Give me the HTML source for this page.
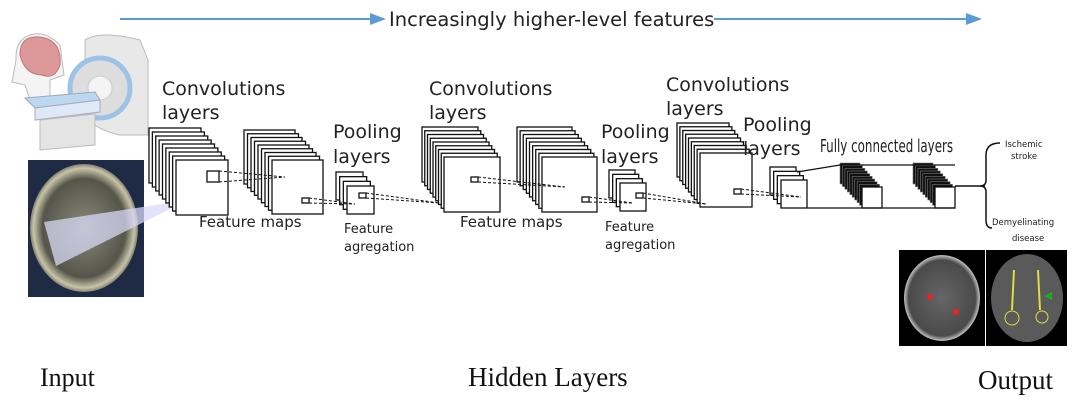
<!DOCTYPE html>
<html><head><meta charset="utf-8"><style>
html,body{margin:0;padding:0;background:#fff;}
svg{display:block;}
text{font-family:"DejaVu Sans","Liberation Sans",sans-serif;fill:#222;}
.serif{font-family:"Liberation Serif",serif;fill:#111;}
</style></head><body>
<svg id="s" width="1081" height="401" viewBox="0 0 1081 401" xmlns="http://www.w3.org/2000/svg">
<defs>
<radialGradient id="brain" cx="50%" cy="50%" r="55%"><stop offset="0" stop-color="#8a8a7a"/><stop offset="0.7" stop-color="#55554a"/><stop offset="0.85" stop-color="#c8c4a8"/><stop offset="1" stop-color="#1a1a22"/></radialGradient>
<radialGradient id="brain2" cx="50%" cy="50%" r="55%"><stop offset="0" stop-color="#666"/><stop offset="0.8" stop-color="#4a4a4a"/><stop offset="0.9" stop-color="#bbb"/><stop offset="1" stop-color="#000"/></radialGradient>
</defs>
<!-- top arrow -->
<line x1="120" y1="19" x2="372" y2="19" stroke="#5b9bd5" stroke-width="2"/>
<polygon points="370,13 386,19 370,25" fill="#5b9bd5"/>
<text x="389" y="26" font-size="19.5">Increasingly higher-level features</text>
<line x1="714" y1="19" x2="968" y2="19" stroke="#5b9bd5" stroke-width="2"/>
<polygon points="966,13 982,19 966,25" fill="#5b9bd5"/>

<!-- scanner illustration -->
<g>
<path d="M85,40 Q100,30 140,40 L148,60 L148,135 L120,135 Q95,130 85,115 Z" fill="#e8e8e8" stroke="#bbb"/>
<circle cx="100" cy="88" r="30" fill="#ddd" stroke="#9cc3e6" stroke-width="5"/>
<circle cx="100" cy="88" r="12" fill="#f4f4f4" stroke="#ccc"/>
<path d="M16,60 Q15,40 30,35 Q45,30 60,45 L64,75 L50,80 L50,100 L30,100 L25,85 L12,82 Z" fill="#f4f4f4" stroke="#bbb"/>
<path d="M20,55 Q20,35 40,37 Q62,40 60,65 Q55,80 42,75 Q25,75 20,55Z" fill="#d99" stroke="#b77"/>
<path d="M25,98 L95,92 L100,100 L35,108 Z" fill="#bcd7f0" stroke="#9ab"/>
<path d="M35,108 L100,100 L100,112 L35,120 Z" fill="#dfe9f5" stroke="#aab"/>
<path d="M40,120 L95,114 L95,145 L40,150 Z" fill="#e4e4e4" stroke="#bbb"/>
</g>
<!-- MRI photo -->
<rect x="28" y="160" width="116" height="137" fill="#1f2a44"/>
<ellipse cx="84" cy="228" rx="54" ry="64" fill="url(#brain)"/>
<polygon points="44,222 176,202 198,195 56,266" fill="#d8d8f6" opacity="0.75"/>
<polygon points="176,199 198,195 196,209 174,212" fill="#6a68a8"/>

<g id="g" fill="#fff" stroke="#111" stroke-width="1.3"></g>

<!-- FC connecting lines -->
<path d="M797,172 L840,165 L955,165" fill="none" stroke="#111" stroke-width="1.2"/>
<path d="M807,208 L955,208" fill="none" stroke="#111" stroke-width="1.2"/>
<path d="M955,186 L985,186" stroke="#111" stroke-width="1.5"/>
<path d="M1000,143 Q986,143 986,155 L986,180 Q986,186 980,186 Q986,186 986,192 L986,220 Q986,228 992,228" fill="none" stroke="#111" stroke-width="1.5"/>

<!-- labels -->
<g font-size="19">
<text x="162" y="95">Convolutions</text><text x="162" y="119">layers</text>
<text x="429" y="95">Convolutions</text><text x="429" y="119">layers</text>
<text x="666" y="91">Convolutions</text><text x="666" y="115">layers</text>
<text x="333" y="138">Pooling</text><text x="333" y="163">layers</text>
<text x="601" y="138">Pooling</text><text x="601" y="163">layers</text>
<text x="743" y="131">Pooling</text><text x="743" y="155">layers</text>
</g>
<g font-size="15">
<text x="199" y="227">Feature maps</text>
<text x="460" y="227">Feature maps</text>
</g>
<g font-size="13">
<text x="344" y="233">Feature</text><text x="344" y="251">agregation</text>
<text x="605" y="231">Feature</text><text x="605" y="249">agregation</text>
</g>
<text x="820" y="152" font-size="18" transform="translate(820,0) scale(0.66,1) translate(-820,0)">Fully connected layers</text>
<g font-size="8.5">
<text x="1005" y="147">Ischemic</text><text x="1011" y="159">stroke</text>
<text x="992" y="225">Demyelinating</text><text x="1012" y="241">disease</text>
</g>

<!-- output images -->
<rect x="899" y="250" width="86" height="96" fill="#000"/>
<ellipse cx="942" cy="298" rx="38" ry="43" fill="url(#brain2)"/>
<circle cx="930" cy="297" r="3" fill="#e22"/><circle cx="956" cy="312" r="3" fill="#e22"/>
<rect x="986" y="250" width="81" height="96" fill="#000"/>
<ellipse cx="1027" cy="298" rx="36" ry="44" fill="#5a5a5a"/>
<path d="M1014,270 L1012,310 M1038,270 L1040,310" stroke="#dd4" stroke-width="2"/>
<circle cx="1012" cy="318" r="7" fill="none" stroke="#dd4"/><circle cx="1042" cy="317" r="6" fill="none" stroke="#dd4"/>
<polygon points="1044,296 1052,292 1052,300" fill="#2a2"/>

<text class="serif" x="40" y="386" font-size="26">Input</text>
<text class="serif" x="468" y="386" font-size="27">Hidden Layers</text>
<text class="serif" x="978" y="389" font-size="27">Output</text>
</svg>
<script>
var g=document.getElementById('g'),NS='http://www.w3.org/2000/svg';
function el(t,a){var e=document.createElementNS(NS,t);for(var k in a)e.setAttribute(k,a[k]);g.appendChild(e);return e;}
function stack(bx,by,fx,fy,w,h,n,black){
 for(var i=0;i<n;i++){var t=n==1?1:i/(n-1);var x=bx+(fx-bx)*t,y=by+(fy-by)*t;
  var last=i==n-1;
  el('rect',{x:x,y:y,width:w,height:h,fill:(black&&!last)?'#111':'#fff',stroke:(black&&!last)?'#777':'#111','stroke-width':black&&!last?0.6:1.3});}
}
stack(149,128,176,160,52,55,9);
stack(244,130,272,160,51,54,9);
stack(336,172,347,186,27,28,4);
stack(422,127,444,157,56,55,9);
stack(517,127,542,157,55,55,9);
stack(609,170,620,183,26,28,4);
stack(677,123,700,153,52,54,9);
stack(770,167,781,180,26,28,4);
stack(840,163,862,187,20,21,10,true);
stack(913,163,935,187,20,21,10,true);
function sq(x,y,w,h){el('rect',{x:x,y:y,width:w,height:h,fill:'none'});}
function dash(x1,y1,x2,y2){el('line',{x1:x1,y1:y1,x2:x2,y2:y2,'stroke-dasharray':'3,2','stroke-width':1});}
sq(207,171,12,11);dash(219,171,285,177);dash(219,182,285,177);
sq(302,198,7,5);dash(309,198,355,204);dash(309,203,355,204);
sq(359,193,7,5);dash(366,193,440,203);dash(366,198,440,203);
sq(471,177,7,5);dash(478,177,565,187);dash(478,182,565,187);
sq(582,197,7,5);dash(589,197,633,203);dash(589,202,633,203);
sq(636,193,7,5);dash(643,193,706,204);dash(643,198,706,204);
sq(734,189,7,5);dash(741,189,801,197);dash(741,194,801,197);
</script>
</body></html>
